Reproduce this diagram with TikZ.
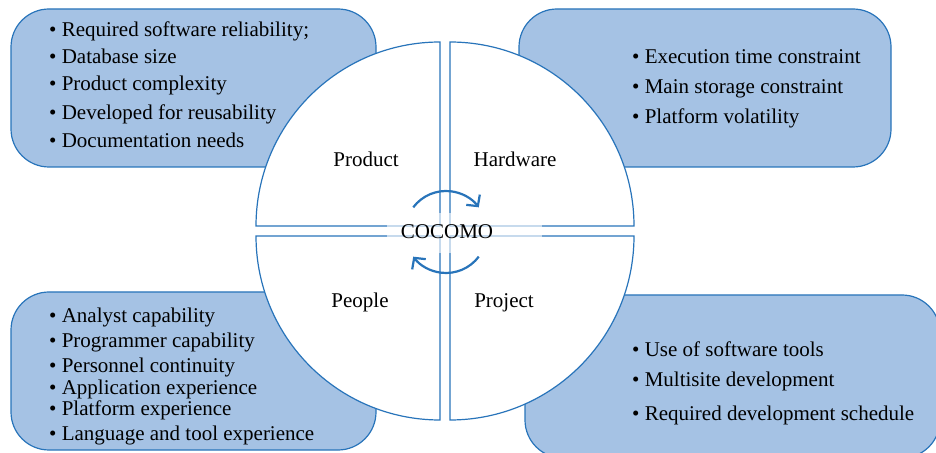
\documentclass[tikz,border=0pt]{standalone}
\usepackage{fontspec}
\setmainfont{Liberation Serif}
\usetikzlibrary{arrows.meta}
\definecolor{cocblue}{RGB}{40,116,186}
\definecolor{boxfill}{RGB}{165,194,228}
\begin{document}
\begin{tikzpicture}[x=1pt,y=1pt,
  factorbox/.style={draw=cocblue,fill=boxfill,line width=1.2pt,rounded corners=38pt},
  quarter/.style={draw=cocblue,fill=white,line width=1.2pt},
  driver/.style={anchor=base west,inner sep=0pt,font=\fontsize{21}{25}\selectfont},
  sectorname/.style={anchor=base,inner sep=0pt,font=\fontsize{21}{25}\selectfont},
  turn/.style={draw=cocblue,line width=2.2pt,-{Straight Barb[length=8pt,width=17pt]}}]
\clip (0,0) rectangle (936,452);
% the four groups of cost drivers
\draw[factorbox] (11,285) rectangle (376,443);
\draw[factorbox] (519,285) rectangle (891,443);
\draw[factorbox] (11,2) rectangle (376,160);
\draw[factorbox] (525,-6) rectangle (940,157);
% the circle in four quarters
\draw[quarter] (440,226) -- (256,226) arc[start angle=180,end angle=90,radius=184] -- cycle;
\draw[quarter] (450,226) -- (450,410) arc[start angle=90,end angle=0,radius=184] -- cycle;
\draw[quarter] (440,216) -- (440,32) arc[start angle=270,end angle=180,radius=184] -- cycle;
\draw[quarter] (450,216) -- (634,216) arc[start angle=0,end angle=-90,radius=184] -- cycle;
\fill[white,opacity=0.6] (387,199) rectangle (542,239);
% turning arrows
\coordinate (C) at (446,220);
\draw[turn] ([shift={(143:41)}]C) arc[start angle=143,end angle=37,radius=41];
\draw[turn] ([shift={(-37:41)}]C) arc[start angle=-37,end angle=-143,radius=41];
\node[sectorname] (COCOMO) at (447,213) {COCOMO};
\node[sectorname] (Product) at (366,285) {Product};
\node[sectorname] (Hardware) at (515,285) {Hardware};
\node[sectorname] (People) at (360,144) {People};
\node[sectorname] (Project) at (504,144) {Project};
% product
\node[driver] (PR1) at (49,415) {\textbullet\ Required software reliability;};
\node[driver] (PR2) at (49,388) {\textbullet\ Database size};
\node[driver] (PR3) at (49,361) {\textbullet\ Product complexity};
\node[driver] (PR4) at (49,332) {\textbullet\ Developed for reusability};
\node[driver] (PR5) at (49,304) {\textbullet\ Documentation needs};
% hardware
\node[driver] (HW1) at (632,388) {\textbullet\ Execution time constraint};
\node[driver] (HW2) at (632,358) {\textbullet\ Main storage constraint};
\node[driver] (HW3) at (632,328) {\textbullet\ Platform volatility};
% people
\node[driver] (PE1) at (49,129) {\textbullet\ Analyst capability};
\node[driver] (PE2) at (49,104) {\textbullet\ Programmer capability};
\node[driver] (PE3) at (49,79) {\textbullet\ Personnel continuity};
\node[driver] (PE4) at (49,57) {\textbullet\ Application experience};
\node[driver] (PE5) at (49,36) {\textbullet\ Platform experience};
\node[driver] (PE6) at (49,12) {\textbullet\ Language and tool experience};
% project
\node[driver] (PJ1) at (632,95) {\textbullet\ Use of software tools};
\node[driver] (PJ2) at (632,65) {\textbullet\ Multisite development};
\node[driver] (PJ3) at (632,31) {\textbullet\ Required development schedule};
\end{tikzpicture}
\end{document}
